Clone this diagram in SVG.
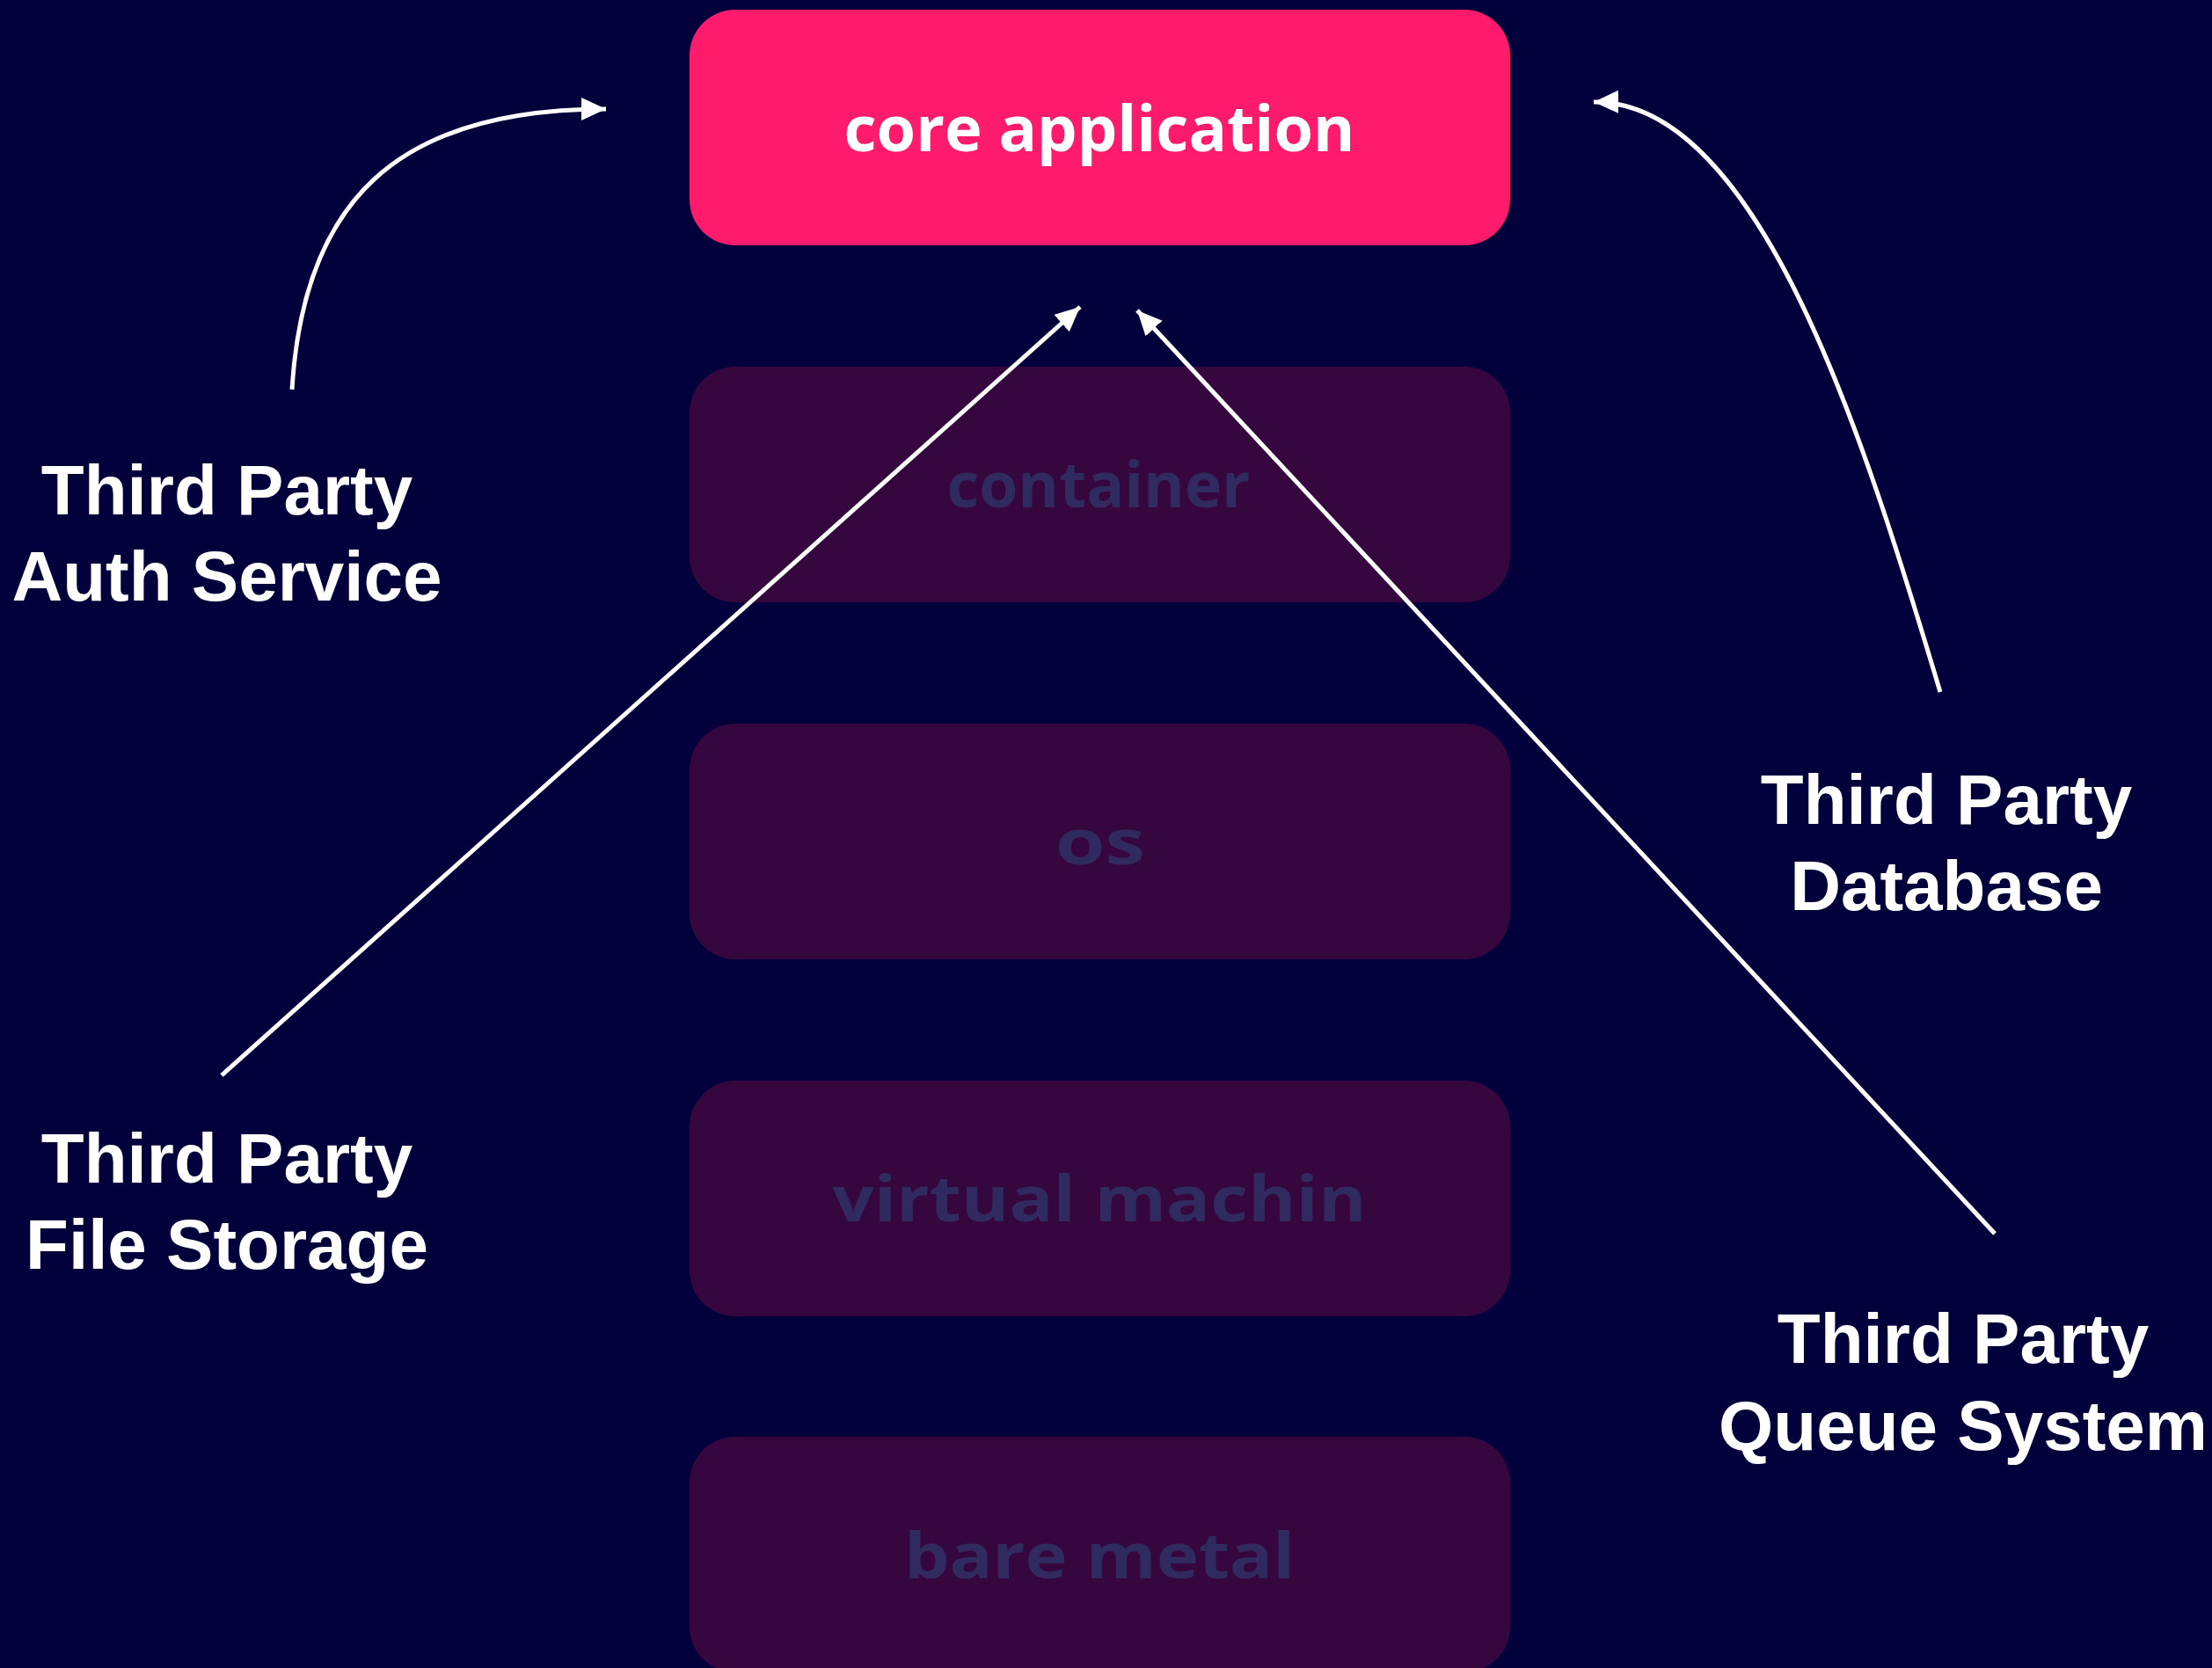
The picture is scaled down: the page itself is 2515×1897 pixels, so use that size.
<svg xmlns="http://www.w3.org/2000/svg" width="2515" height="1897" viewBox="0 0 2515 1897">
<style>
.layer{fill:#36063f}
.layer-text{fill:#302b5e;font-family:"Open Sans","Noto Sans",sans-serif;font-weight:700;font-size:72px;text-anchor:middle}
.core-text{fill:#ffffff;font-family:"Open Sans","Noto Sans",sans-serif;font-weight:700;font-size:72px;text-anchor:middle}
.label{fill:#ffffff;font-family:"Liberation Sans",Arial,sans-serif;font-weight:700;font-size:80px;text-anchor:middle}
.conn{fill:none;stroke:#ffffff;stroke-width:5}
</style>
<defs>
<marker id="arrow" markerUnits="userSpaceOnUse" markerWidth="32" markerHeight="30" refX="28" refY="13" orient="auto">
<path d="M0,0 L28,13 L0,26 z" fill="#ffffff"/>
</marker>
</defs>
<rect x="0" y="0" width="2515" height="1897" fill="#03013c"/>
<g id="core">
<rect x="784" y="11" width="933" height="268" rx="52" ry="52" fill="#ff1b6b"/>
<text class="core-text" x="1250" y="172" textLength="581" lengthAdjust="spacingAndGlyphs">core application</text>
</g>
<g id="container">
<rect class="layer" x="784" y="417" width="933" height="268" rx="52" ry="52"/>
<text class="layer-text" x="1249" y="577" textLength="345" lengthAdjust="spacingAndGlyphs">container</text>
</g>
<g id="os">
<rect class="layer" x="784" y="823" width="933" height="268" rx="52" ry="52"/>
<text class="layer-text" x="1251" y="983" textLength="102" lengthAdjust="spacingAndGlyphs">os</text>
</g>
<g id="vm">
<rect class="layer" x="784" y="1229" width="933" height="268" rx="52" ry="52"/>
<text class="layer-text" x="1250" y="1389" textLength="607" lengthAdjust="spacingAndGlyphs">virtual machin</text>
</g>
<g id="bare-metal">
<rect class="layer" x="784" y="1634" width="933" height="268" rx="52" ry="52"/>
<text class="layer-text" x="1250" y="1795" textLength="444" lengthAdjust="spacingAndGlyphs">bare metal</text>
</g>
<g id="auth">
<text class="label" x="258" y="585">Third Party</text>
<text class="label" x="258" y="683">Auth Service</text>
</g>
<g id="file-storage">
<text class="label" x="258" y="1345">Third Party</text>
<text class="label" x="258" y="1443">File Storage</text>
</g>
<g id="database">
<text class="label" x="2213" y="937">Third Party</text>
<text class="label" x="2213" y="1035">Database</text>
</g>
<g id="queue">
<text class="label" x="2232" y="1550">Third Party</text>
<text class="label" x="2232" y="1649">Queue System</text>
</g>
<g id="connectors">
<path class="conn" d="M332,443 C345,230 450,124 689,124" marker-end="url(#arrow)"/>
<path class="conn" d="M2206,787 C2120,500 2000,114 1812,116" marker-end="url(#arrow)"/>
<path class="conn" d="M252,1223 L1228,349" marker-end="url(#arrow)"/>
<path class="conn" d="M2268,1403 L1293,353" marker-end="url(#arrow)"/>
</g>
</svg>
